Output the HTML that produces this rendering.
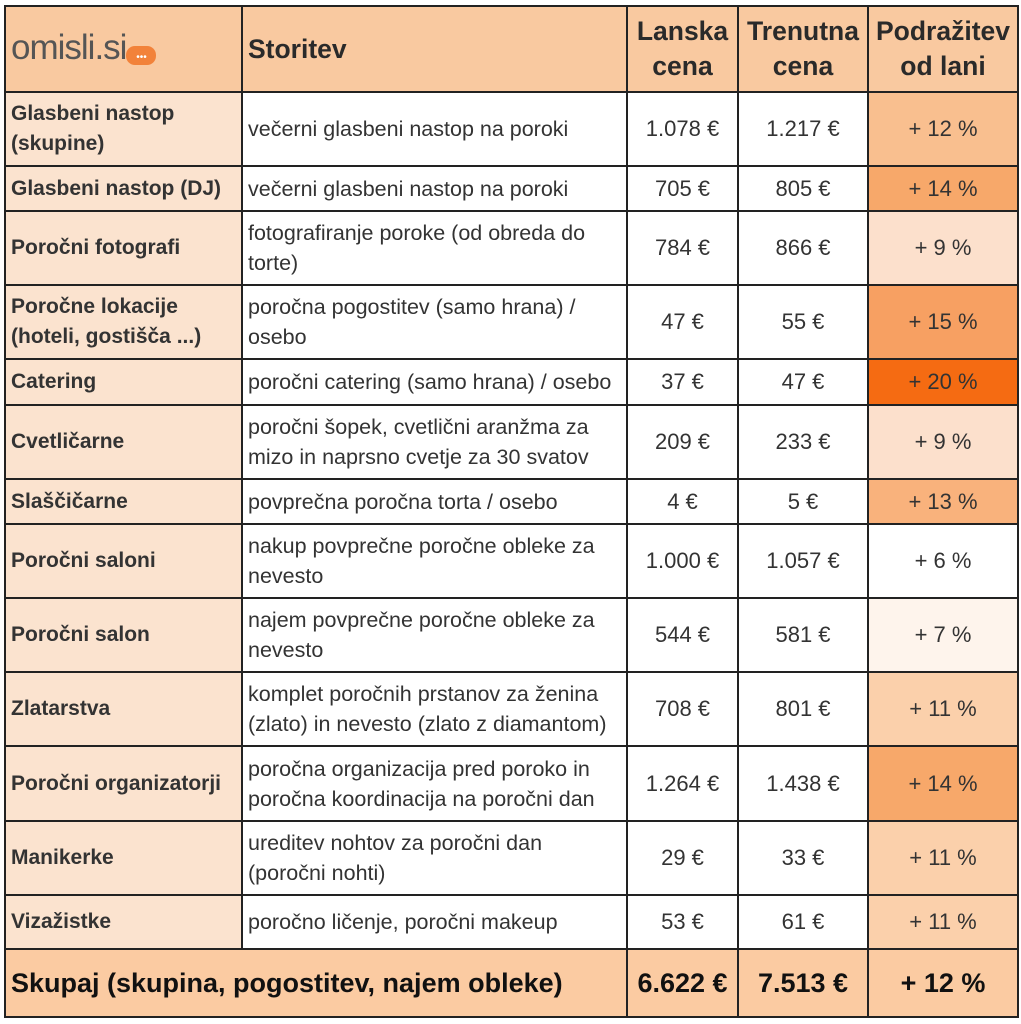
<!DOCTYPE html>
<html><head><meta charset="utf-8"><style>
html,body{margin:0;padding:0;background:#fff;width:1021px;height:1024px;overflow:hidden}
table{position:absolute;left:4px;top:5px;border-collapse:collapse;table-layout:fixed;font-family:"Liberation Sans",sans-serif;color:#333}
td,th{border:2px solid #222;padding:0 5px;font-size:21.5px;line-height:30px;overflow:hidden}
th{background:#f9c9a0;font-size:26.5px;font-weight:bold;line-height:35px;color:#2a2a2a}
td.n{background:#fbe3cf;font-weight:bold;font-size:21px;padding-right:0}
td.c{text-align:center;font-size:22px}
tr.t td{background:#fbcba2;font-weight:bold;font-size:27px;color:#111}
</style></head><body>
<table>
<colgroup><col style="width:237px"><col style="width:385px"><col style="width:111px"><col style="width:130px"><col style="width:150px"></colgroup>
<tr style="height:86px">
<th style="text-align:left;font-weight:normal"><span style="font-size:35px;color:#555;letter-spacing:-1px">omisli.si</span><span style="display:inline-block;width:30px;height:19px;background:#f2823a;border-radius:9px;vertical-align:-1px;color:#fff;font-size:10px;line-height:24px;text-align:center">•••</span></th>
<th style="text-align:left">Storitev</th>
<th>Lanska cena</th>
<th>Trenutna cena</th>
<th>Podražitev od lani</th></tr>
<tr style="height:74px"><td class="n">Glasbeni nastop (skupine)</td><td>večerni glasbeni nastop na poroki</td><td class="c">1.078 €</td><td class="c">1.217 €</td><td class="c" style="background:#f9bf8f">+ 12 %</td></tr>
<tr style="height:45px"><td class="n">Glasbeni nastop (DJ)</td><td>večerni glasbeni nastop na poroki</td><td class="c">705 €</td><td class="c">805 €</td><td class="c" style="background:#f7a86a">+ 14 %</td></tr>
<tr style="height:74px"><td class="n">Poročni fotografi</td><td>fotografiranje poroke (od obreda do torte)</td><td class="c">784 €</td><td class="c">866 €</td><td class="c" style="background:#fce0cc">+ 9 %</td></tr>
<tr style="height:74px"><td class="n">Poročne lokacije (hoteli, gostišča ...)</td><td>poročna pogostitev (samo hrana) / osebo</td><td class="c">47 €</td><td class="c">55 €</td><td class="c" style="background:#f7a062">+ 15 %</td></tr>
<tr style="height:46px"><td class="n">Catering</td><td>poročni catering (samo hrana) / osebo</td><td class="c">37 €</td><td class="c">47 €</td><td class="c" style="background:#f56b12">+ 20 %</td></tr>
<tr style="height:74px"><td class="n">Cvetličarne</td><td>poročni šopek, cvetlični aranžma za mizo in naprsno cvetje za 30 svatov</td><td class="c">209 €</td><td class="c">233 €</td><td class="c" style="background:#fce0cc">+ 9 %</td></tr>
<tr style="height:45px"><td class="n">Slaščičarne</td><td>povprečna poročna torta / osebo</td><td class="c">4 €</td><td class="c">5 €</td><td class="c" style="background:#f9b27c">+ 13 %</td></tr>
<tr style="height:74px"><td class="n">Poročni saloni</td><td>nakup povprečne poročne obleke za nevesto</td><td class="c">1.000 €</td><td class="c">1.057 €</td><td class="c" style="background:#fff">+ 6 %</td></tr>
<tr style="height:74px"><td class="n">Poročni salon</td><td>najem povprečne poročne obleke za nevesto</td><td class="c">544 €</td><td class="c">581 €</td><td class="c" style="background:#fef4ec">+ 7 %</td></tr>
<tr style="height:74px"><td class="n">Zlatarstva</td><td>komplet poročnih prstanov za ženina (zlato) in nevesto (zlato z diamantom)</td><td class="c">708 €</td><td class="c">801 €</td><td class="c" style="background:#fbd0ab">+ 11 %</td></tr>
<tr style="height:75px"><td class="n">Poročni organizatorji</td><td>poročna organizacija pred poroko in poročna koordinacija na poročni dan</td><td class="c">1.264 €</td><td class="c">1.438 €</td><td class="c" style="background:#f7a86a">+ 14 %</td></tr>
<tr style="height:74px"><td class="n">Manikerke</td><td>ureditev nohtov za poročni dan (poročni nohti)</td><td class="c">29 €</td><td class="c">33 €</td><td class="c" style="background:#fbd0ab">+ 11 %</td></tr>
<tr style="height:54px"><td class="n">Vizažistke</td><td>poročno ličenje, poročni makeup</td><td class="c">53 €</td><td class="c">61 €</td><td class="c" style="background:#fbd0ab">+ 11 %</td></tr>
<tr class="t" style="height:68px"><td colspan="2">Skupaj (skupina, pogostitev, najem obleke)</td><td class="c" style="font-size:27px">6.622 €</td><td class="c" style="font-size:27px">7.513 €</td><td class="c" style="font-size:27px">+ 12 %</td></tr>
</table>
</body></html>
